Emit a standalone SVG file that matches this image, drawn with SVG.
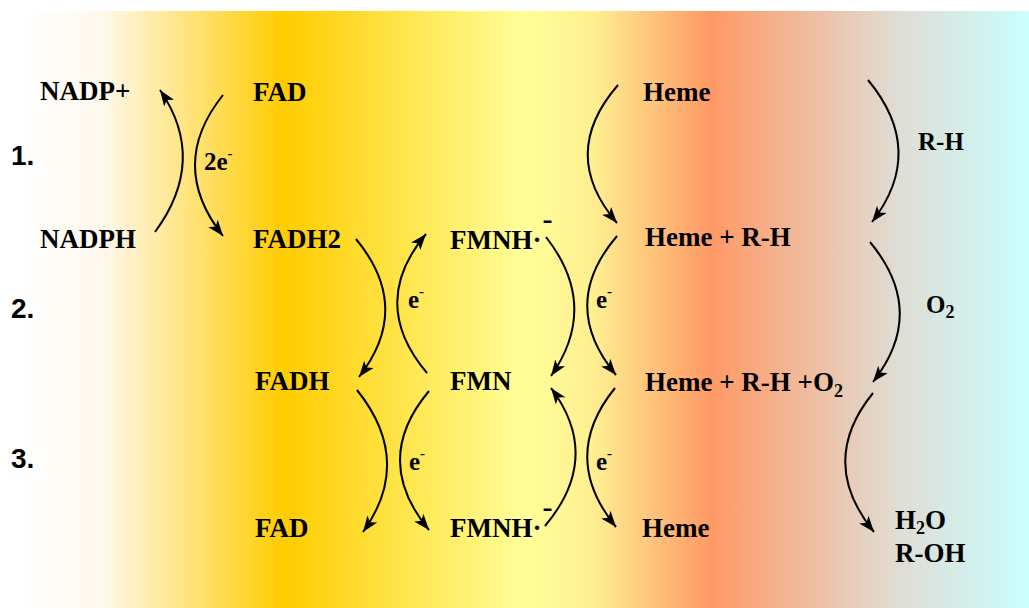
<svg xmlns="http://www.w3.org/2000/svg" width="1029" height="608" viewBox="0 0 1029 608">
  <defs>
    <linearGradient id="band" gradientUnits="userSpaceOnUse" x1="20" y1="0" x2="1029" y2="0">
      <stop offset="0" stop-color="#FFFFFF"/>
      <stop offset="0.08" stop-color="#FFF9EE"/>
      <stop offset="0.262" stop-color="#FFCC00"/>
      <stop offset="0.50" stop-color="#FFFF99"/>
      <stop offset="0.57" stop-color="#FFEE90"/>
      <stop offset="0.685" stop-color="#FF9966"/>
      <stop offset="0.87" stop-color="#E0DDD4"/>
      <stop offset="0.98" stop-color="#CCF9F8"/>
      <stop offset="1" stop-color="#CCFFFF"/>
    </linearGradient>
    <marker id="head" markerUnits="userSpaceOnUse" markerWidth="20" markerHeight="16" viewBox="-17 -8 20 16" refX="1" refY="0" orient="auto">
      <path d="M1,0 L-15,-6 L-11,0 L-15,6 Z" fill="#000"/>
    </marker>
  </defs>
  <style>
    .t { font-family: "Liberation Serif", "Times New Roman", serif; font-weight: bold; font-size: 27px; fill: #000; }
    .lbl { font-family: "Liberation Serif", "Times New Roman", serif; font-weight: bold; font-size: 25px; fill: #000; }
    .step { font-family: "Liberation Sans", Arial, sans-serif; font-weight: bold; font-size: 28px; fill: #000; }
    .sup { font-size: 15px; }
    .rad { font-size: 30px; }
    .sub { font-size: 18px; }
    .arc { fill: none; stroke: #000; stroke-width: 2; marker-end: url(#head); }
  </style>

  <rect x="20" y="11" width="1009" height="597" fill="url(#band)"/>

  <!-- step numbers -->
  <g id="steps">
    <text class="step" x="11" y="165">1.</text>
    <text class="step" x="11" y="318">2.</text>
    <text class="step" x="11" y="468">3.</text>
  </g>

  <!-- species -->
  <g id="nadp"><text class="t" x="40" y="100">NADP+</text></g>
  <g id="nadph"><text class="t" x="40" y="248">NADPH</text></g>
  <g id="fad-top"><text class="t" x="253" y="101">FAD</text></g>
  <g id="fadh2"><text class="t" x="253" y="248">FADH2</text></g>
  <g id="fadh"><text class="t" x="255" y="390">FADH</text></g>
  <g id="fad-bottom"><text class="t" x="255" y="537">FAD</text></g>
  <g id="fmnh-top"><text class="t" x="450" y="249">FMNH·<tspan class="rad" dx="1" dy="-20">-</tspan></text></g>
  <g id="fmn"><text class="t" x="450" y="390">FMN</text></g>
  <g id="fmnh-bottom"><text class="t" x="450" y="537">FMNH·<tspan class="rad" dx="1" dy="-20">-</tspan></text></g>
  <g id="heme-top"><text class="t" x="643" y="101">Heme</text></g>
  <g id="heme-rh"><text class="t" x="645" y="246">Heme + R-H</text></g>
  <g id="heme-rh-o2"><text class="t" x="645" y="391">Heme + R-H +O<tspan class="sub" dy="6">2</tspan></text></g>
  <g id="heme-bottom"><text class="t" x="642" y="537">Heme</text></g>
  <g id="products">
    <text class="t" x="895" y="529">H<tspan class="sub" dy="5">2</tspan><tspan dy="-5">O</tspan></text>
    <text class="t" x="895" y="562">R-OH</text>
  </g>

  <!-- arrow labels -->
  <g id="labels">
    <text class="lbl" x="204" y="170">2e<tspan class="sup" dy="-12">-</tspan></text>
    <text class="lbl" x="918" y="150">R-H</text>
    <text class="lbl" x="408" y="308">e<tspan class="sup" dy="-12">-</tspan></text>
    <text class="lbl" x="596" y="308">e<tspan class="sup" dy="-12">-</tspan></text>
    <text class="lbl" x="926" y="313">O<tspan class="sub" dy="5">2</tspan></text>
    <text class="lbl" x="409" y="470">e<tspan class="sup" dy="-12">-</tspan></text>
    <text class="lbl" x="596" y="470">e<tspan class="sup" dy="-12">-</tspan></text>
  </g>

  <!-- connectors -->
  <g id="connectors">
    <path class="arc" d="M155,232 Q208,160 160,90"/>
    <path class="arc" d="M223,95 Q167,165 223,236"/>
    <path class="arc" d="M356,239 Q413,308 359,377"/>
    <path class="arc" d="M427,373 Q368,303 426,234"/>
    <path class="arc" d="M546,237 Q600,306 551,376"/>
    <path class="arc" d="M617,236 Q558,305 616,375"/>
    <path class="arc" d="M618,85 Q558,154 617,223"/>
    <path class="arc" d="M868,80 Q927,151 872,222"/>
    <path class="arc" d="M870,242 Q928,312 873,382"/>
    <path class="arc" d="M873,393 Q817,462 874,532"/>
    <path class="arc" d="M357,390 Q414,461 363,532"/>
    <path class="arc" d="M429,391 Q371,460 429,530"/>
    <path class="arc" d="M545,526 Q603,457 551,388"/>
    <path class="arc" d="M615,388 Q559,457 616,527"/>
  </g>
</svg>
